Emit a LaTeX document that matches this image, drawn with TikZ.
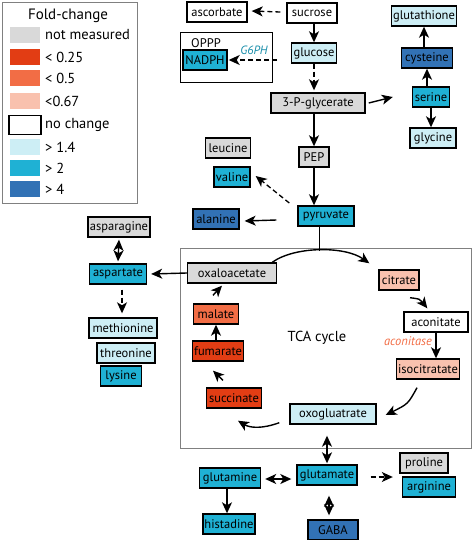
\documentclass[tikz,border=0pt]{standalone}
\usepackage{fontspec}
\setmainfont{PT Sans}
\usepackage{tikz}
\usetikzlibrary{arrows.meta}
\usetikzlibrary{positioning}

\definecolor{nmeas}{HTML}{D9D9D9}
\definecolor{lowA}{HTML}{E23D14}
\definecolor{lowB}{HTML}{F26D45}
\definecolor{lowC}{HTML}{F9C1AE}
\definecolor{highA}{HTML}{CDEEF5}
\definecolor{highB}{HTML}{1FB1D4}
\definecolor{highC}{HTML}{3272B5}
\definecolor{framegray}{HTML}{808080}

\tikzset{
  met/.style={draw,line width=1.4pt,inner xsep=1.5pt,inner ysep=0pt,
    minimum height=20pt,minimum width=#1,font=\fontsize{12.5}{13}\selectfont},
  met/.default=10pt,
  swatch/.style={minimum width=30pt,minimum height=16pt,inner sep=0pt},
  legtext/.style={anchor=west,inner sep=0pt,font=\fontsize{14.5}{15}\selectfont},
  flow/.style={->,line width=1.4pt},
  dflow/.style={->,line width=1.3pt,dash pattern=on 5pt off 3pt},
  both/.style={<->,line width=1.4pt}
}

\begin{document}
\begin{tikzpicture}[x=1pt,y=-1pt,>={Stealth[length=11pt,width=10pt,inset=3pt]}]
  \useasboundingbox (0,0) rectangle (473,540);

  % legend
  \draw[framegray,line width=1pt] (2,3) rectangle (137,203);
  \node[font=\fontsize{15}{16}\selectfont] (leg) at (68,16) {Fold-change};
  \foreach \y/\c/\t in {35/nmeas/not measured,57/lowA/< 0.25,78/lowB/< 0.5,
      101/lowC/<0.67,147/highA/> 1.4,168/highB/> 2,189/highC/> 4}{
    \node[swatch,fill=\c] at (25,\y) {};
    \node[legtext] at (45,\y) {\t};
  }
  \node[swatch,draw,line width=1.4pt,minimum width=32pt,minimum height=19pt] at (25,125) {};
  \node[legtext] at (45,125) {no change};

  % frames
  \draw[line width=0.8pt] (180,32) rectangle (272,82);
  \draw[framegray,line width=1pt] (180,248) rectangle (471,448);

  % metabolites
  \node[met=60pt] (ascorbate) at (217,12) {ascorbate};
  \node[met=50pt] (sucrose) at (312,13) {sucrose};
  \node[met=45pt,fill=highA] (glucose) at (314,53) {glucose};
  \node[font=\fontsize{12.5}{13}\selectfont] (oppp) at (206,43) {OPPP};
  \node[met=44pt,fill=highB,font=\fontsize{12.5}{13}\selectfont] (nadph) at (205,60) {NADPH};
  \node[text=highB!80!black,font=\fontsize{12}{13}\selectfont\itshape] (g6ph) at (254,50) {G6PH};
  \node[met=94pt,fill=nmeas] (pga) at (318,103) {3-P-glycerate};
  \node[met=59pt,fill=highA] (glutathione) at (424,16) {glutathione};
  \node[met=51pt,fill=highC] (cysteine) at (427,58) {cysteine};
  \node[met=37pt,fill=highB] (serine) at (431,97) {serine};
  \node[met=46pt,fill=highA] (glycine) at (433,138) {glycine};
  \node[met=30pt,fill=nmeas] (pep) at (314,157) {PEP};
  \node[met=56pt,fill=highB] (pyruvate) at (326,216) {pyruvate};
  \node[met=45pt,fill=nmeas] (leucine) at (228,148) {leucine};
  \node[met=36pt,fill=highB] (valine) at (232,177) {valine};
  \node[met=46pt,fill=highC] (alanine) at (216,219) {alanine};
  \node[met=62pt,fill=nmeas] (asparagine) at (119,227) {asparagine};
  \node[met=57pt,fill=highB] (aspartate) at (118,274) {aspartate};
  \node[met=68pt,fill=highA] (methionine) at (123,328) {methionine};
  \node[met=58pt,fill=highA] (threonine) at (126,353) {threonine};
  \node[met=41pt,fill=highB] (lysine) at (121,376) {lysine};

  % TCA cycle
  \node[font=\fontsize{14.5}{15}\selectfont] (tca) at (317,338) {TCA cycle};
  \node[met=89pt,fill=nmeas] (oxaloacetate) at (232,273) {oxaloacetate};
  \node[met=40pt,fill=lowC] (citrate) at (399,280) {citrate};
  \node[met=64pt] (aconitate) at (436,322) {aconitate};
  \node[text=lowB,font=\fontsize{12.5}{13}\selectfont\itshape] (aconitase) at (408,341) {aconitase};
  \node[met=62pt,fill=lowC] (isocitratate) at (428,369) {isocitratate};
  \node[met=86pt,fill=highA] (oxogluatrate) at (333,414) {oxogluatrate};
  \node[met=55pt,fill=lowA] (succinate) at (234,398) {succinate};
  \node[met=51pt,fill=lowA] (fumarate) at (218,351) {fumarate};
  \node[met=45pt,fill=lowB] (malate) at (216,314) {malate};

  % amino acids from glutamate
  \node[met=60pt,fill=highB] (glutamate) at (327,475) {glutamate};
  \node[met=61pt,fill=highB] (glutamine) at (230,478) {glutamine};
  \node[met=52pt,fill=highB] (histadine) at (229,524) {histadine};
  \node[met=50pt,fill=highC] (gaba) at (333,530) {GABA};
  \node[met=48pt,fill=nmeas] (proline) at (424,463) {proline};
  \node[met=53pt,fill=highB] (arginine) at (429,487) {arginine};

  % glycolysis
  \draw[dflow] ([shift={(-6,-1)}]sucrose.west) -- ([shift={(4,-1)}]ascorbate.east);
  \draw[flow] (sucrose.south -| glucose) -- (glucose);
  \coordinate (g6start) at (277,60);
  \draw[dflow] (g6start) -- ([shift={(1,0)}]nadph.east);
  \draw[dflow] (glucose) -- ([shift={(0,-2)}]glucose |- pga.north);
  \draw[flow] ([shift={(3,0)}]pga.east) -- ([shift={(-19,0)}]serine.west);
  \draw[flow] (serine.north -| cysteine) -- (cysteine);
  \draw[flow] (cysteine.north -| glutathione) -- (glutathione);
  \draw[flow] (serine) -- (serine.south |- glycine.north);
  \draw[flow] (pga.south -| pep) -- (pep);
  \draw[flow] (pep) -- (pyruvate.north -| pep);
  \draw[dflow] ([shift={(-8,-13)}]pyruvate.west) -- ([shift={(5,-1)}]valine.east);
  \draw[flow] ([shift={(-21,4)}]pyruvate.west) -- ([shift={(5,2)}]alanine.east);
  \coordinate (entry) at (319,251);
  \draw[line width=0.8pt] (pyruvate.south -| entry) -- (entry);

  % aspartate family
  \draw[flow] (oxaloacetate.west) -- ([shift={(4,0)}]aspartate.east);
  \draw[both] ([shift={(0,2)}]asparagine.south) -- ([shift={(0,-2)}]aspartate.north);
  \draw[dflow] ([shift={(4,5)}]aspartate.south) -- ([shift={(-1,-4)}]methionine.north);

  % cycle
  \draw[flow] ([shift={(-5,0)}]oxaloacetate.north east) .. controls (295,246) and (345,246) .. ([shift={(-9,-6)}]citrate.north west);
  \draw[flow] ([shift={(11,7)}]citrate.south) .. controls (420,299) .. ([shift={(24,-3)}]aconitate.north west);
  \draw[flow] (aconitate.south) -- (aconitate.south |- isocitratate.north);
  \draw[flow] ([shift={(-11,8)}]isocitratate.south) .. controls (408,404) .. ([shift={(9,1)}]oxogluatrate.east);
  \draw[flow] ([shift={(-10,-2)}]oxogluatrate.south west) .. controls (262,429) and (250,428) .. ([shift={(4,12)}]succinate.south);
  \draw[flow] ([shift={(-11,-7)}]succinate.north) -- ([shift={(-5,9)}]fumarate.south);
  \draw[flow] (fumarate.north -| malate) -- (malate);
  \draw[flow] ([shift={(-3,-8)}]malate.north) -- ([shift={(-10,2)}]oxaloacetate.south);

  % glutamate family
  \draw[both] ([shift={(0,11)}]oxogluatrate.south -| glutamate) -- ([shift={(0,-1)}]glutamate.north);
  \draw[both] ([shift={(4,1)}]glutamine.east) -- ([shift={(-5,1)}]glutamate.west |- glutamine);
  \draw[flow] ([shift={(-3,0)}]glutamine.south) -- ([shift={(-3,0)}]glutamine.south |- histadine.north);
  \draw[both] ([shift={(2,10)}]glutamate.south) -- ([shift={(2,-4)}]gaba.north -| glutamate);
  \draw[dflow] ([shift={(13,2)}]glutamate.east) -- ([shift={(-9,0)}]arginine.west |- 0,477);
\end{tikzpicture}
\end{document}
